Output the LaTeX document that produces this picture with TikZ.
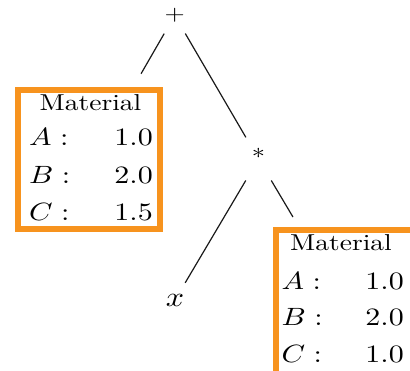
\documentclass[tikz,border=0pt]{standalone}
\usepackage{graphicx}
\usetikzlibrary{calc}
\definecolor{boxorange}{HTML}{F7931E}
\newcommand{\hdrtxt}[1]{\scalebox{2.75}[2.3]{#1}}
\newcommand{\rowtxt}[1]{\scalebox{3.0}[2.5]{#1}}
\tikzset{
  boxframe/.style={draw=boxorange, line width=6pt, outer sep=3pt, inner sep=0pt, rectangle},
  optext/.style={circle, inner sep=0pt, outer sep=0pt},
  edge/.style={line width=1.2pt, draw=black!90},
  hdr/.style={anchor=base, inner sep=0pt},
  keyl/.style={anchor=base west, inner sep=0pt},
  vall/.style={anchor=base east, inner sep=0pt},
}
\begin{document}
\begin{tikzpicture}[x=1pt,y=1pt]
\useasboundingbox (0,0) rectangle (410,370);
\clip (0,0) rectangle (410,370);
% boxes
\node[boxframe, minimum width=142pt, minimum height=139pt] (box1) at (89,210.5) {};
\node[boxframe, minimum width=144pt, minimum height=150pt] (box2) at (348,65) {};
% operator nodes
\node[optext, minimum size=42pt] (plus) at (174.7,354.6) {\scalebox{2.6}[2.1]{$+$}};
\node[optext, minimum size=50pt] (star) at (258.5,211) {\raisebox{11pt}{\scalebox{2.64}[2.2]{$*$}}};
\node[optext, minimum size=40pt] (xvar) at (175,70) {\scalebox{3.2}[2.8]{$x$}};
% edges
\draw[edge, shorten >=15.3pt] (plus) -- ($(box1.north east)+(-29.6,0)$);
\draw[edge] (plus) -- (star);
\draw[edge] (star) -- (xvar);
\draw[edge, shorten >=11.6pt] (star) -- ($(box2.north west)+(25.9,0)$);
% box 1 contents
\node[hdr] (m1) at (90.5,259.3) {\hdrtxt{Material}};
\node[keyl] (ka1) at (29,224) {\rowtxt{$A\;{:}$}};
\node[keyl] (kb1) at (29,186.5) {\rowtxt{$B\;{:}$}};
\node[keyl] (kc1) at (29,149) {\rowtxt{$C\;{:}$}};
\node[vall] (va1) at (153,224) {\rowtxt{1.0}};
\node[vall] (vb1) at (153,186.5) {\rowtxt{2.0}};
\node[vall] (vc1) at (153,149) {\rowtxt{1.5}};
% box 2 contents
\node[hdr] (m2) at (341,119.3) {\hdrtxt{Material}};
\node[keyl] (ka2) at (281.5,80.7) {\rowtxt{$A\;{:}$}};
\node[keyl] (kb2) at (281.5,44.3) {\rowtxt{$B\;{:}$}};
\node[keyl] (kc2) at (281.5,7.3) {\rowtxt{$C\;{:}$}};
\node[vall] (va2) at (404,80.7) {\rowtxt{1.0}};
\node[vall] (vb2) at (404,44.3) {\rowtxt{2.0}};
\node[vall] (vc2) at (404,7.3) {\rowtxt{1.0}};
\end{tikzpicture}
\end{document}
